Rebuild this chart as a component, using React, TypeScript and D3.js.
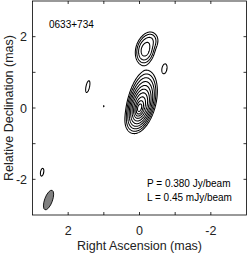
import React, { useMemo } from "react";
import * as d3 from "d3";

// ---- Data ----
const sourceName = "0633+734";
const peakLabel = "P = 0.380 Jy/beam";
const lowestLabel = "L = 0.45 mJy/beam";
const xAxisTitle = "Right Ascension (mas)";
const yAxisTitle = "Relative Declination (mas)";
const xTickLabels = [2, 0, -2];
const yTickLabels = [2, 0, -2];
const tickPositions = [-2, -1, 0, 1, 2];
const lowestLevel = 0.45; // mJy/beam
const levelFactors = [1, 2, 4, 8, 16, 32, 64, 128, 256, 512];

// Brightness model components (mas, mJy/beam)
const compRA = [0, -0.03, -0.05, -0.1, 0.14, -0.16, -0.33, 1.45, -0.7, 2.73, 1.0];
const compDec = [0, 0.06, 0.12, 0.35, -0.3, 1.63, 1.9, 0.6, 1.1, -1.8, 0.05];
const compPeak = [250, 90, 18, 3, 1.4, 5.5, 1.3, 0.74, 0.74, 0.74, 0.5];
const compMaj = [0.1, 0.2, 0.3, 0.34, 0.2, 0.19, 0.14, 0.17, 0.14, 0.11, 0.04];
const compMin = [0.05, 0.1, 0.14, 0.16, 0.13, 0.12, 0.12, 0.05, 0.07, 0.045, 0.02];
const compTilt = [15, 15, 15, 10, 20, 12, 0, 12, 10, 10, 0];

// Restoring beam
const beamRA = [2.55];
const beamDec = [-2.58];
const beamMaj = [0.29];
const beamMin = [0.11];
const beamTilt = [20];

const W = 249;
const H = 254;
const left = 32.5;
const right = 246.5;
const top = 1;
const bottom = 215;
const font = "'Liberation Sans', Arial, Helvetica, sans-serif";

export default function App() {
  const x = d3.scaleLinear().domain([3, -3]).range([left, right]);
  const y = d3.scaleLinear().domain([3, -3]).range([top, bottom]);

  const paths = useMemo(() => {
    const n = 401;
    const step = 6 / (n - 1);
    const values = new Float64Array(n * n);
    const comps = compRA.map((ra, k) => {
      const t = (compTilt[k] * Math.PI) / 180;
      return { ra, dec: compDec[k], p: compPeak[k], a: compMaj[k], b: compMin[k], c: Math.cos(t), s: Math.sin(t) };
    });
    for (let j = 0; j < n; j++) {
      const dec = 3 - j * step;
      for (let i = 0; i < n; i++) {
        const ra = 3 - i * step;
        let v = 0;
        for (const cp of comps) {
          const dx = -(ra - cp.ra);
          const dy = dec - cp.dec;
          const u = dy * cp.c + dx * cp.s;
          const w = dx * cp.c - dy * cp.s;
          const e = 0.5 * ((u / cp.a) ** 2 + (w / cp.b) ** 2);
          if (e < 30) v += cp.p * Math.exp(-e);
        }
        values[i + j * n] = v;
      }
    }
    const levels = levelFactors.map((f) => f * lowestLevel);
    const contours = d3.contours().size([n, n]).thresholds(levels)(values as any);
    const proj = d3.geoTransform({
      point(px: number, py: number) {
        (this as any).stream.point(x(3 - (px - 0.5) * step), y(3 - (py - 0.5) * step));
      },
    });
    const gp = d3.geoPath(proj);
    return contours.map((c) => gp(c as any) || "");
  }, []);

  const tl = 3;
  return (
    <svg
      width={W}
      height={H}
      style={{ position: "fixed", left: 0, top: 0, background: "#fff" }}
      fontFamily={font}
    >
      <rect x={0} y={0} width={W} height={H} fill="#fff" />
      {paths.map((d, i) => (
        <path key={i} d={d} fill="none" stroke="#000" strokeWidth={1.05} />
      ))}
      {beamRA.map((ra, i) => (
        <ellipse
          key={i}
          cx={x(ra)}
          cy={y(beamDec[i])}
          rx={x(0) - x(beamMin[i])}
          ry={x(0) - x(beamMaj[i])}
          transform={`rotate(${beamTilt[i]} ${x(ra)} ${y(beamDec[i])})`}
          fill="#808080"
          stroke="#000"
          strokeWidth={0.8}
        />
      ))}
      <rect x={left} y={top} width={right - left} height={bottom - top} fill="none" stroke="#000" strokeWidth={0.8} />
      {tickPositions.map((t) => (
        <g key={t} stroke="#000" strokeWidth={0.8}>
          <line x1={x(t)} x2={x(t)} y1={bottom} y2={bottom - tl} />
          <line x1={x(t)} x2={x(t)} y1={top} y2={top + tl} />
          <line x1={left} x2={left + tl} y1={y(t)} y2={y(t)} />
          <line x1={right} x2={right - tl} y1={y(t)} y2={y(t)} />
        </g>
      ))}
      {xTickLabels.map((t) => (
        <text key={t} x={x(t)} y={235} fontSize={12.5} textAnchor="middle" fill="#222">
          {t}
        </text>
      ))}
      {yTickLabels.map((t) => (
        <text key={t} x={27} y={y(t) + 4.5} fontSize={12.5} textAnchor="end" fill="#222">
          {t}
        </text>
      ))}
      <text x={x(0)} y={250} fontSize={12.5} textAnchor="middle" fill="#222">
        {xAxisTitle}
      </text>
      <text
        transform={`translate(13, ${(top + bottom) / 2}) rotate(-90)`}
        fontSize={12.5}
        textAnchor="middle"
        fill="#222"
      >
        {yAxisTitle}
      </text>
      <text x={49} y={28} fontSize={10} fill="#000">
        {sourceName}
      </text>
      <text x={147} y={187} fontSize={10} fill="#000">
        {peakLabel}
      </text>
      <text x={147} y={201} fontSize={10} fill="#000">
        {lowestLabel}
      </text>
    </svg>
  );
}
